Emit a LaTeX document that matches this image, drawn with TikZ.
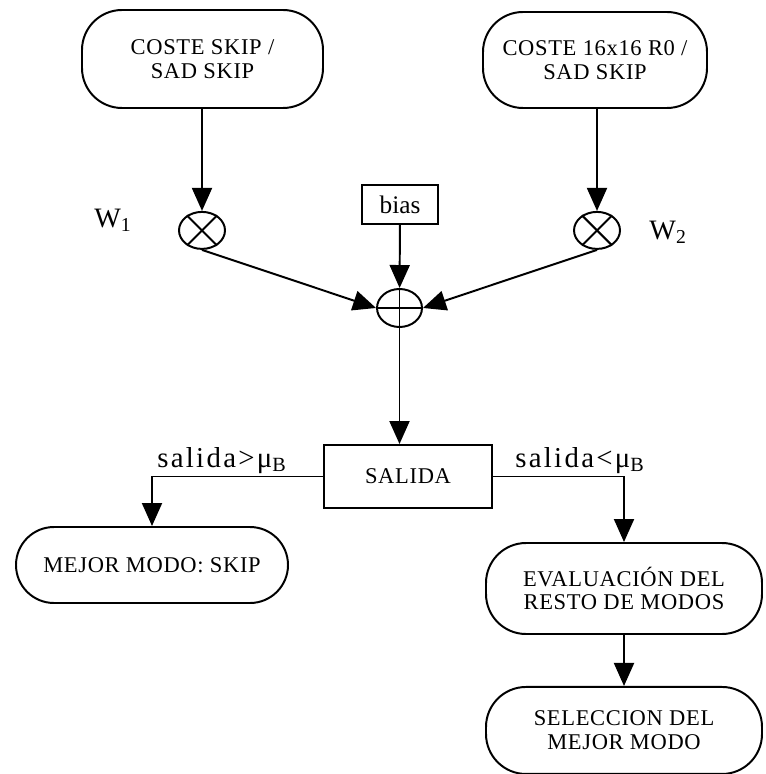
\documentclass[tikz,border=0pt]{standalone}
\usepackage{fontspec}
\setmainfont{Liberation Serif}
\usetikzlibrary{arrows.meta,positioning,shapes.geometric}
\tikzset{
  termbox/.style={rectangle,rounded corners=1cm,draw=black,line width=1.4pt,align=center,font=\fontsize{16}{17}\selectfont\addfontfeature{LetterSpace=3},inner sep=2pt},
  outbox/.style={rectangle,draw=black,line width=1.4pt,align=center,inner sep=2pt},
  mulnode/.style={ellipse,draw=black,line width=1.4pt,minimum width=1.15cm,minimum height=0.925cm,inner sep=0pt},
  weight/.style={font=\fontsize{20}{22}\selectfont,inner sep=0pt},
  cond/.style={font=\fontsize{20.5}{22}\selectfont\addfontfeature{LetterSpace=8},inner sep=0pt},
  arrow/.style={-{Triangle[length=0.575cm,width=0.5cm]},line width=1.4pt,draw=black}
}

\begin{document}
\begin{tikzpicture}
  \useasboundingbox (0,0) rectangle (19.125,-19.35);

  % inputs and weighting
  \node[termbox,minimum width=6.025cm,minimum height=2.45cm] (skip) at (5.0625,-1.475) {COSTE SKIP /\\SAD SKIP};
  \node[termbox,minimum width=5.6cm,minimum height=2.4cm] (r0) at (14.875,-1.5) {COSTE 16x16 R0 /\\SAD SKIP};
  \node[mulnode] (mulA) at (5.05,-5.76) {};
  \node[mulnode] (mulB) at (14.925,-5.76) {};
  \node[weight] (w1) at (2.825,-5.5) {W\textsubscript{1}};
  \node[weight] (w2) at (16.7,-5.8) {W\textsubscript{2}};
  \node[outbox,minimum width=1.9cm,minimum height=0.975cm,font=\fontsize{18}{20}\selectfont] (bias) at (10,-5.1125) {bias};
  \node[mulnode,minimum width=1.125cm,minimum height=0.95cm] (sum) at (9.9875,-7.7) {};
  \foreach \m in {mulA,mulB} {
    \draw[line width=1.4pt] (\m.45) -- (\m.225);
    \draw[line width=1.4pt] (\m.135) -- (\m.-45);
  }
  \draw[line width=1.4pt] (sum.north) -- (sum.south);
  \draw[line width=1.4pt] (sum.west) -- (sum.east);

  % decision and outcomes
  \node[outbox,minimum width=4.2cm,minimum height=1.575cm,font=\fontsize{16}{17}\selectfont\addfontfeature{LetterSpace=3}] (salida) at (10.2,-11.9125) {SALIDA};
  \node[termbox,rounded corners=0.95cm,minimum width=6.8cm,minimum height=1.9cm] (mejor) at (3.8,-14.125) {MEJOR MODO: SKIP};
  \node[termbox,minimum width=6.9cm,minimum height=2.275cm] (eval) at (15.6,-14.7125) {EVALUACIÓN DEL\\RESTO DE MODOS};
  \node[termbox,minimum width=6.9cm,minimum height=2.175cm,below=1.275cm of eval] (sel) {SELECCION DEL\\MEJOR MODO};
  \node[cond,anchor=base west] (gt) at (3.925,-11.675) {salida>μ\textsubscript{B}};
  \node[cond,anchor=base west] (lt) at (12.875,-11.675) {salida<μ\textsubscript{B}};

  \draw[arrow] (mulA |- skip.south) -- (mulA.north);
  \draw[arrow] (mulB |- r0.south) -- (mulB.north);
  \draw[arrow] (mulA.south) -- (sum.west);
  \draw[arrow] (mulB.south) -- (sum.east);
  \draw[arrow] (bias) -- (sum);
  \draw[arrow] (sum) -- (sum |- salida.north);
  \draw[arrow] (salida.west) -| (mejor.north);
  \draw[arrow] (salida.east) -| (eval.north);
  \draw[arrow] (eval) -- (sel);
\end{tikzpicture}
\end{document}
